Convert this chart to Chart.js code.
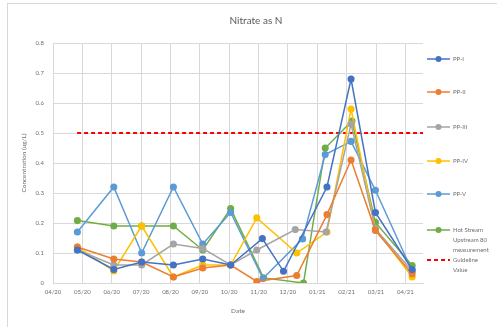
<!DOCTYPE html>
<html>
<head>
<meta charset="utf-8">
<script src="https://cdn.jsdelivr.net/npm/chart.js@4/dist/chart.umd.min.js"></script>
<style>
  html, body { margin: 0; padding: 0; background: #fff; }
  #wrap { position: relative; width: 497px; height: 327px; }
  #frame { position: absolute; left: 7px; top: 3px; right: -2px; bottom: -2px; border: 1px solid #d9d9d9; }
  canvas { position: absolute; left: 0; top: 0; }
</style>
</head>
<body>
<div id="wrap">
  <div id="frame"></div>
  <canvas id="nitrateChart" width="497" height="327"></canvas>
</div>
<script>
// tick labels on the date axis (one per month starting 04/20)
const monthLabels = ['04/20', '05/20', '06/20', '07/20', '08/20', '09/20', '10/20',
                     '11/20', '12/20', '01/21', '02/21', '03/21', '04/21'];

// sample dates, in months after 04/20, and nitrate values (ug/L)
const ppIDates = [0.83, 2.07, 3.02, 4.1, 5.1, 6.05, 7.13, 7.85, 9.33, 10.15, 10.98, 12.23];
const ppIValues = [0.11, 0.045, 0.07, 0.06, 0.08, 0.06, 0.148, 0.039, 0.32, 0.68, 0.235, 0.045];

const ppIIDates = [0.83, 2.07, 3.02, 4.1, 5.1, 6.05, 6.94, 8.3, 9.33, 10.15, 10.98, 12.23];
const ppIIValues = [0.12, 0.08, 0.07, 0.02, 0.05, 0.06, 0.005, 0.025, 0.228, 0.41, 0.175, 0.03];

const ppIIIDates = [0.83, 2.07, 3.02, 4.1, 5.1, 6.05, 6.94, 8.25, 9.3, 10.15, 10.98, 12.23];
const ppIIIValues = [0.11, 0.06, 0.06, 0.13, 0.115, 0.06, 0.11, 0.178, 0.17, 0.53, 0.18, 0.04];

const ppIVDates = [0.83, 2.07, 3.02, 4.1, 5.1, 6.05, 6.94, 8.3, 9.33, 10.15, 10.98, 12.23];
const ppIVValues = [0.12, 0.04, 0.19, 0.02, 0.06, 0.06, 0.217, 0.1, 0.17, 0.58, 0.18, 0.02];

const ppVDates = [0.83, 2.07, 3.02, 4.1, 5.1, 6.05, 7.15, 8.5, 9.27, 10.15, 10.98, 12.23];
const ppVValues = [0.17, 0.32, 0.10, 0.32, 0.13, 0.235, 0.015, 0.147, 0.428, 0.472, 0.309, 0.04];

const hotStreamDates = [0.83, 2.07, 3.02, 4.1, 5.1, 6.05, 7.17, 8.53, 9.27, 10.18, 10.98, 12.23];
const hotStreamValues = [0.208, 0.19, 0.19, 0.19, 0.11, 0.248, 0.017, 0.0, 0.45, 0.54, 0.202, 0.058];

const guidelineDates = [0.82, 12.6];
const guidelineValues = [0.5, 0.5];

const seriesNames = ['PP-I', 'PP-II', 'PP-III', 'PP-IV', 'PP-V',
                     'Hot Stream\nUpstream 80\nmeasurement', 'Guideline\nValue'];
const seriesColors = ['#4472c4', '#ed7d31', '#a5a5a5', '#ffc000', '#5b9bd5', '#70ad47', '#ff0000'];

function toPoints(xs, ys) {
    return xs.map((x, i) => ({ x: x, y: ys[i] }));
}

const allSeries = [
    [ppIDates, ppIValues],
    [ppIIDates, ppIIValues],
    [ppIIIDates, ppIIIValues],
    [ppIVDates, ppIVValues],
    [ppVDates, ppVValues],
    [hotStreamDates, hotStreamValues],
    [guidelineDates, guidelineValues]
];

const datasets = allSeries.map((s, i) => {
    const isGuide = i === allSeries.length - 1;
    return {
        label: seriesNames[i],
        data: toPoints(s[0], s[1]),
        borderColor: seriesColors[i],
        backgroundColor: seriesColors[i],
        borderWidth: isGuide ? 2 : 1.5,
        borderDash: isGuide ? [4, 3] : [],
        pointRadius: isGuide ? 0 : 2.8,
        pointHoverRadius: 0,
        tension: 0
    };
});

const textColor = '#6f6f6f';
const fontFamily = 'Lato, "Liberation Sans", sans-serif';

// draws the title and the right-hand legend (line + marker + wrapped text)
const overlay = {
    id: 'overlay',
    afterDraw(chart) {
        const ctx = chart.ctx;
        ctx.save();
        ctx.fillStyle = '#595959';
        ctx.font = '10px ' + fontFamily;
        ctx.textAlign = 'center';
        ctx.textBaseline = 'middle';
        ctx.fillText('Nitrate as N', 256, 21);

        const rows = [59, 92, 127, 161, 194, 230, 260];
        ctx.textAlign = 'left';
        ctx.font = '6px ' + fontFamily;
        chart.data.datasets.forEach((ds, i) => {
            const y = rows[i];
            ctx.strokeStyle = ds.borderColor;
            ctx.lineWidth = ds.borderWidth;
            ctx.setLineDash(ds.borderDash);
            ctx.beginPath();
            ctx.moveTo(427, y);
            ctx.lineTo(450, y);
            ctx.stroke();
            ctx.setLineDash([]);
            if (ds.pointRadius > 0) {
                ctx.fillStyle = ds.backgroundColor;
                ctx.beginPath();
                ctx.arc(438.5, y, 3, 0, Math.PI * 2);
                ctx.fill();
            }
            ctx.fillStyle = textColor;
            ds.label.split('\n').forEach((line, k) => {
                ctx.fillText(line, 453, y + k * 9.8);
            });
        });
        ctx.restore();
    }
};

new Chart(document.getElementById('nitrateChart'), {
    type: 'line',
    data: { datasets: datasets },
    options: {
        responsive: false,
        animation: false,
        events: [],
        layout: { padding: { left: 14, right: 74, top: 43, bottom: 8 } },
        plugins: {
            legend: { display: false },
            tooltip: { enabled: false }
        },
        scales: {
            x: {
                type: 'linear',
                min: 0,
                max: 12.6,
                afterFit: (scale) => { scale.height = 36; },
                // one tick per month label
                afterBuildTicks: (scale) => {
                    scale.ticks = monthLabels.map((_, i) => ({ value: i }));
                },
                ticks: {
                    autoSkip: false,
                    maxRotation: 0,
                    padding: 5,
                    color: textColor,
                    font: { family: fontFamily, size: 6 },
                    callback: (v) => monthLabels[v]
                },
                grid: { color: '#d9d9d9', drawTicks: false },
                border: { color: '#d9d9d9' },
                title: {
                    display: true,
                    text: 'Date',
                    color: textColor,
                    font: { family: fontFamily, size: 6.5 },
                    padding: { top: 0, bottom: 4 }
                }
            },
            y: {
                min: 0,
                max: 0.8,
                afterFit: (scale) => { scale.width = 39; },
                ticks: {
                    stepSize: 0.1,
                    padding: 9,
                    color: textColor,
                    font: { family: fontFamily, size: 6 },
                    callback: (v) => (Math.round(v * 10) / 10).toString()
                },
                grid: { color: '#d9d9d9', drawTicks: false },
                border: { color: '#d9d9d9' },
                title: {
                    display: true,
                    text: 'Concentration (ug/L)',
                    color: textColor,
                    font: { family: fontFamily, size: 6.5 },
                    padding: { top: 6, bottom: 0 }
                }
            }
        }
    },
    plugins: [overlay]
});
</script>
</body>
</html>
